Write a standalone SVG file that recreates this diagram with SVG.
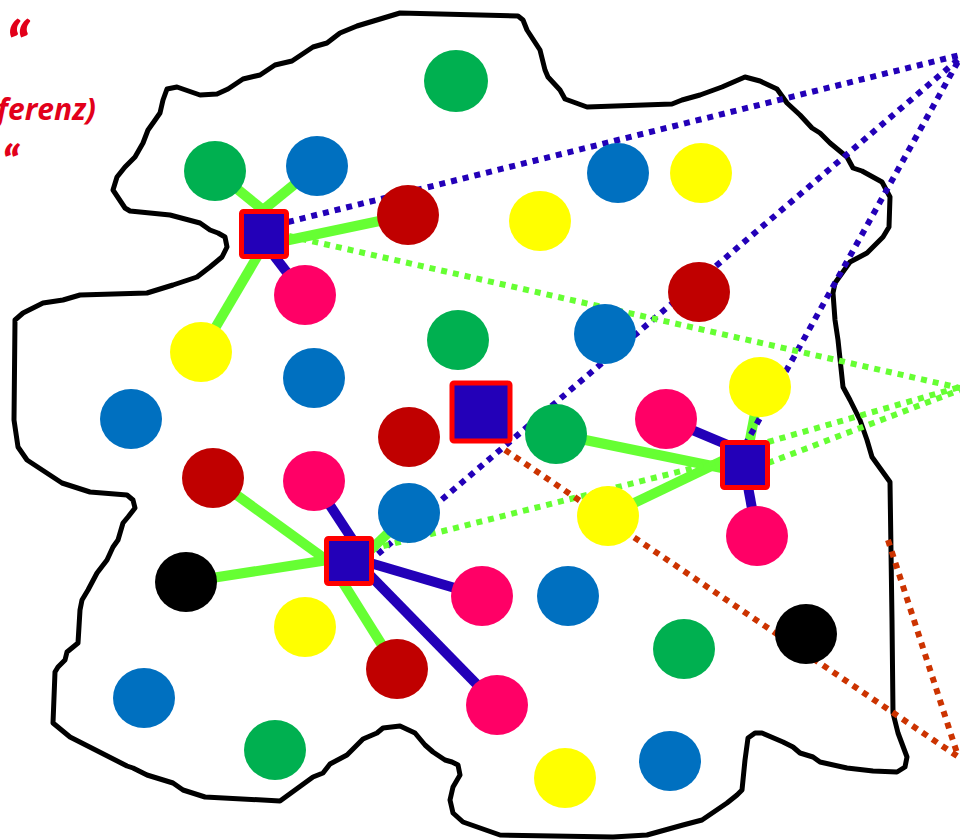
<svg xmlns="http://www.w3.org/2000/svg" width="960" height="840" viewBox="0 0 960 840">
<style>
.blob{fill:none;stroke:#000;stroke-width:5;stroke-linejoin:round;stroke-linecap:round}
.sg{stroke:#66FF33;stroke-width:10;fill:none}
.sb{stroke:#2300B8;stroke-width:10;fill:none}
.db{stroke:#2300B8;stroke-width:6;stroke-dasharray:6 6;fill:none}
.dg{stroke:#66FF33;stroke-width:6;stroke-dasharray:6 6;fill:none}
.do{stroke:#CC3300;stroke-width:6;stroke-dasharray:6 6;fill:none}
.hub{fill:#2300B8;stroke:#FF0000;stroke-width:5}
.t{font-family:"Open Sans","Liberation Sans",sans-serif;font-weight:bold;font-style:italic;fill:#E2001A}
.q{font-family:Lato,"Open Sans","Liberation Sans",sans-serif;font-weight:900;font-style:italic;fill:#E2001A}
.g{fill:#00B050}.b{fill:#0070C0}.r{fill:#C00000}.y{fill:#FFFF00}.p{fill:#FF0066}.k{fill:#000}
</style>
<text class="q" x="29" y="68" font-size="62" text-anchor="end">“</text>
<text class="t" x="96" y="120" font-size="30" text-anchor="end">ferenz)</text>
<text class="q" x="19" y="179" font-size="46" text-anchor="end">“</text>
<path class="blob" d="M400,13 L518,16 L523,20 L527,30 L540,50 L545,70 L548,77 L560,90 L565,99 L587,107 L672,104 L682,100 L700,95 L722,87 L745,77 L760,81 L777,89 L787,103 L800,115 L812,128 L820,133 L830,143 L847,157 L853,168 L862,171 L882,182 L890,197 L889,227 L883,237 L867,253 L850,262 L835,283 L833,293 L835,320 L838,340 L843,387 L850,400 L860,420 L867,440 L872,457 L890,482 L892,620 L893,713 L898,733 L907,757 L905,767 L897,772 L873,771 L847,768 L820,762 L813,757 L800,753 L793,747 L783,742 L762,733 L755,733 L748,738 L745,760 L742,790 L737,795 L727,803 L702,820 L683,825 L647,835 L613,837 L500,835 L463,822 L453,813 L450,800 L453,787 L460,775 L458,765 L452,762 L445,760 L433,752 L425,745 L415,733 L400,726 L383,728 L377,733 L363,739 L347,755 L330,764 L323,773 L313,777 L280,801 L205,797 L183,790 L173,783 L147,775 L133,768 L127,766 L70,737 L53,723 L55,672 L58,667 L65,660 L67,652 L78,643 L80,610 L82,600 L88,590 L97,573 L107,560 L113,547 L118,540 L123,523 L128,517 L135,508 L133,500 L127,495 L90,492 L62,483 L27,460 L18,447 L14,420 L15,320 L23,313 L43,303 L63,300 L80,295 L147,293 L173,285 L197,277 L210,267 L222,257 L227,247 L225,237 L218,233 L210,230 L200,223 L170,215 L130,211 L125,208 L113,190 L117,177 L125,167 L135,157 L143,143 L148,130 L153,123 L160,113 L163,100 L167,89 L177,87 L200,95 L217,94 L228,89 L243,79 L260,75 L275,65 L292,61 L313,47 L327,43 L340,33 L357,26 Z"/>
<g id="connectors">
<line class="sg" x1="215" y1="171" x2="263" y2="210"/>
<line class="sg" x1="317" y1="166" x2="263" y2="210"/>
<line class="sg" x1="408" y1="215" x2="270" y2="244"/>
<line class="sb" x1="305" y1="296" x2="262" y2="240"/>
<line class="sg" x1="201" y1="352" x2="264" y2="245"/>
<line class="sg" x1="213" y1="478" x2="328" y2="561"/>
<line class="sg" x1="186" y1="582" x2="328" y2="560"/>
<line class="sb" x1="314" y1="481" x2="358" y2="548"/>
<line class="sg" x1="397" y1="669" x2="335" y2="570"/>
<line class="sb" x1="482" y1="596" x2="360" y2="560"/>
<line class="sb" x1="497" y1="705" x2="360" y2="565"/>
<line class="sg" x1="409" y1="513" x2="360" y2="560"/>
<line class="sg" x1="556" y1="434" x2="722" y2="468"/>
<line class="sg" x1="607" y1="516" x2="724" y2="460"/>
<line class="sb" x1="666" y1="419" x2="735" y2="448"/>
<line class="sg" x1="760" y1="387" x2="748" y2="450"/>
<line class="sb" x1="745" y1="470" x2="757" y2="536"/>
<line class="db" x1="288" y1="222" x2="960" y2="55"/>
<line class="db" x1="378" y1="554" x2="960" y2="58"/>
<line class="db" x1="745" y1="445" x2="960" y2="58"/>
<line class="dg" x1="289" y1="236" x2="960" y2="388"/>
<line class="dg" x1="360" y1="552" x2="745" y2="455"/>
<line class="dg" x1="768" y1="442" x2="960" y2="387"/>
<line class="dg" x1="768" y1="463" x2="960" y2="390"/>
<line class="do" x1="505" y1="450" x2="960" y2="758"/>
<line class="do" x1="888" y1="540" x2="958" y2="756"/>
</g>
<g id="n1"><ellipse class="g" cx="456" cy="81" rx="32" ry="31"/></g>
<g id="n2"><ellipse class="g" cx="215" cy="171" rx="31" ry="30"/></g>
<g id="n3"><ellipse class="b" cx="317" cy="166" rx="31" ry="30"/></g>
<g id="n4"><ellipse class="r" cx="408" cy="215" rx="31" ry="30"/></g>
<g id="n5"><ellipse class="y" cx="540" cy="221" rx="31" ry="30"/></g>
<g id="n6"><ellipse class="b" cx="618" cy="173" rx="31" ry="30"/></g>
<g id="n7"><ellipse class="y" cx="701" cy="173" rx="31" ry="30"/></g>
<g id="n8"><ellipse class="r" cx="699" cy="292" rx="31" ry="30"/></g>
<g id="n9"><ellipse class="p" cx="305" cy="295" rx="31" ry="30"/></g>
<g id="n10"><ellipse class="y" cx="201" cy="352" rx="31" ry="30"/></g>
<g id="n11"><ellipse class="g" cx="458" cy="340" rx="31" ry="30"/></g>
<g id="n12"><ellipse class="b" cx="605" cy="334" rx="31" ry="30"/></g>
<g id="n13"><ellipse class="b" cx="314" cy="378" rx="31" ry="30"/></g>
<g id="n14"><ellipse class="b" cx="131" cy="419" rx="31" ry="30"/></g>
<g id="n15"><ellipse class="r" cx="409" cy="437" rx="31" ry="30"/></g>
<g id="n16"><ellipse class="g" cx="556" cy="434" rx="31" ry="30"/></g>
<g id="n17"><ellipse class="p" cx="666" cy="419" rx="31" ry="30"/></g>
<g id="n18"><ellipse class="y" cx="760" cy="387" rx="31" ry="30"/></g>
<g id="n19"><ellipse class="r" cx="213" cy="478" rx="31" ry="30"/></g>
<g id="n20"><ellipse class="p" cx="314" cy="481" rx="31" ry="30"/></g>
<g id="n21"><ellipse class="b" cx="409" cy="513" rx="31" ry="30"/></g>
<g id="n22"><ellipse class="y" cx="608" cy="516" rx="31" ry="30"/></g>
<g id="n23"><ellipse class="p" cx="757" cy="536" rx="31" ry="30"/></g>
<g id="n24"><ellipse class="k" cx="186" cy="582" rx="31" ry="30"/></g>
<g id="n25"><ellipse class="y" cx="305" cy="627" rx="31" ry="30"/></g>
<g id="n26"><ellipse class="p" cx="482" cy="596" rx="31" ry="30"/></g>
<g id="n27"><ellipse class="b" cx="568" cy="596" rx="31" ry="30"/></g>
<g id="n28"><ellipse class="g" cx="684" cy="649" rx="31" ry="30"/></g>
<g id="n29"><ellipse class="k" cx="806" cy="634" rx="31" ry="30"/></g>
<g id="n30"><ellipse class="r" cx="397" cy="669" rx="31" ry="30"/></g>
<g id="n31"><ellipse class="p" cx="497" cy="705" rx="31" ry="30"/></g>
<g id="n32"><ellipse class="b" cx="144" cy="698" rx="31" ry="30"/></g>
<g id="n33"><ellipse class="g" cx="275" cy="750" rx="31" ry="30"/></g>
<g id="n34"><ellipse class="y" cx="565" cy="778" rx="31" ry="30"/></g>
<g id="n35"><ellipse class="b" cx="670" cy="761" rx="31" ry="30"/></g>
<g id="hubA"><rect class="hub" x="241.5" y="211.5" width="45" height="45" rx="2"/></g>
<g id="hubB"><rect class="hub" x="326.5" y="538.5" width="45" height="45" rx="2"/></g>
<g id="hubC"><rect class="hub" x="722.5" y="442.5" width="45" height="45" rx="2"/></g>
<g id="hubMain"><rect class="hub" x="452" y="383" width="58" height="58" rx="2"/></g>
</svg>
